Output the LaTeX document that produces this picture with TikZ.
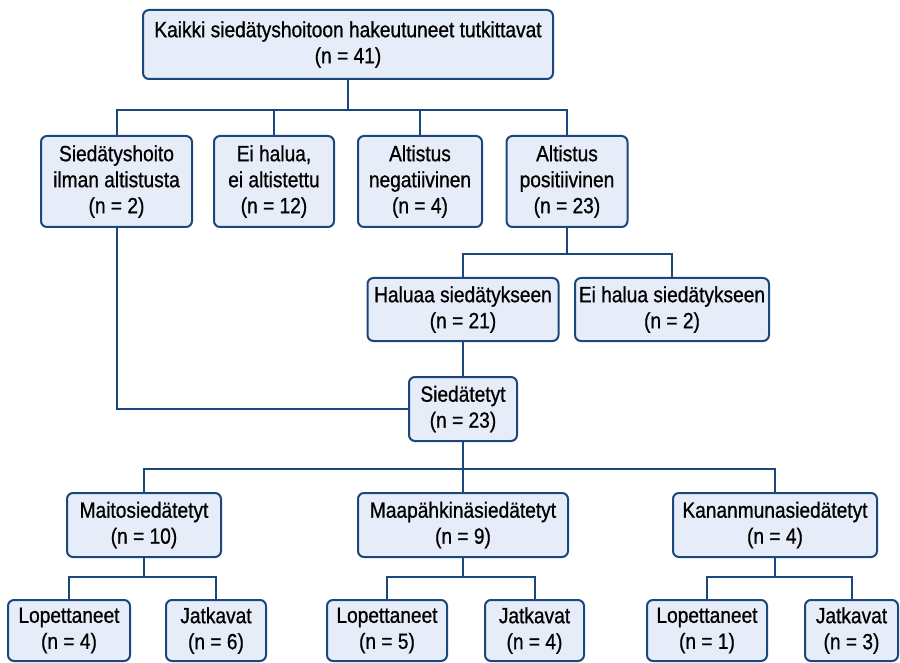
\documentclass[tikz,border=0pt]{standalone}
\usepackage{fontspec}
\setmainfont{Liberation Sans}[FakeStretch=0.87, FakeBold=0.8]
\definecolor{frameblue}{RGB}{26,72,125}
\definecolor{boxblue}{RGB}{231,237,248}
\tikzset{
    box/.style={draw=frameblue, fill=boxblue, rounded corners=6pt,
    	line width=2pt, align=center, inner sep=0pt,
    	font=\fontsize{22pt}{26pt}\selectfont}
}
\tikzset{
    link/.style={draw=frameblue, line width=2pt}
}

\begin{document}
\begin{tikzpicture}[x=1pt, y=-1pt]
	\useasboundingbox (0,0) rectangle (900,663);
	\node (all) [box, minimum width=410, minimum height=69] at (348, 44.5)
		{Kaikki siedätyshoitoon hakeutuneet tutkittavat\\(n = 41)};
	
	\node (ilman) [box, minimum width=151, minimum height=91] at (116.5, 181.5)
		{Siedätyshoito\\ilman altistusta\\(n = 2)};
	\node (eialt) [box, minimum width=120, minimum height=91] at (274, 181.5)
		{Ei halua,\\ei altistettu\\(n = 12)};
	\node (neg) [box, minimum width=124, minimum height=91] at (420, 181.5)
		{Altistus\\negatiivinen\\(n = 4)};
	\node (pos) [box, minimum width=121, minimum height=91] at (567, 181.5)
		{Altistus\\positiivinen\\(n = 23)};
	
	\node (hal) [box, minimum width=191, minimum height=63] at (463, 309.5)
		{Haluaa siedätykseen\\(n = 21)};
	\node (eihal) [box, minimum width=194, minimum height=63] at (672, 309.5)
		{Ei halua siedätykseen\\(n = 2)};
	
	\node (sied) [box, minimum width=108, minimum height=64] at (463, 409)
		{Siedätetyt\\(n = 23)};
	
	\node (maito) [box, minimum width=154, minimum height=64] at (144, 525)
		{Maitosiedätetyt\\(n = 10)};
	\node (maap) [box, minimum width=210, minimum height=64] at (463, 525)
		{Maapähkinäsiedätetyt\\(n = 9)};
	\node (kanan) [box, minimum width=204, minimum height=64] at (775, 525)
		{Kananmunasiedätetyt\\(n = 4)};
	
	\node (lop1) [box, minimum width=122, minimum height=61] at (69, 630.5)
		{Lopettaneet\\(n = 4)};
	\node (jat1) [box, minimum width=100, minimum height=61] at (216, 630.5)
		{Jatkavat\\(n = 6)};
	\node (lop2) [box, minimum width=120, minimum height=61] at (387, 630.5)
		{Lopettaneet\\(n = 5)};
	\node (jat2) [box, minimum width=99, minimum height=61] at (534.5, 630.5)
		{Jatkavat\\(n = 4)};
	\node (lop3) [box, minimum width=120, minimum height=61] at (707, 630.5)
		{Lopettaneet\\(n = 1)};
	\node (jat3) [box, minimum width=93, minimum height=61] at (851.5, 630.5)
		{Jatkavat\\(n = 3)};
	
	\coordinate (j1) at (348, 110);
	\coordinate (j2) at (567, 254);
	\coordinate (j3) at (463, 469);
	\coordinate (j4) at (144, 577);
	\coordinate (j5) at (463, 577);
	\coordinate (j6) at (775, 577);
	
	\draw [link] (all) -- (j1);
	\draw [link] (j1) -| (ilman); \draw [link] (j1) -| (eialt);
	\draw [link] (j1) -| (neg); \draw [link] (j1) -| (pos);
	\draw [link] (pos) -- (j2);
	\draw [link] (j2) -| (hal); \draw [link] (j2) -| (eihal);
	\draw [link] (hal) -- (sied);
	\draw [link] (ilman) |- (sied);
	\draw [link] (sied) -- (j3);
	\draw [link] (j3) -| (maito); \draw [link] (j3) -| (maap);
	\draw [link] (j3) -| (kanan);
	\draw [link] (maito) -- (j4);
	\draw [link] (j4) -| (lop1); \draw [link] (j4) -| (jat1);
	\draw [link] (maap) -- (j5);
	\draw [link] (j5) -| (lop2); \draw [link] (j5) -| (jat2);
	\draw [link] (kanan) -- (j6);
	\draw [link] (j6) -| (lop3); \draw [link] (j6) -| (jat3);
\end{tikzpicture}
\end{document}
